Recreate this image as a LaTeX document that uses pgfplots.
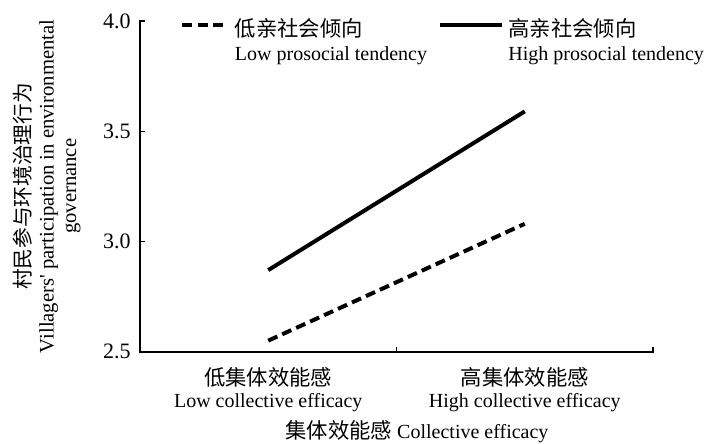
\documentclass[border=0pt]{standalone}
\usepackage{fontspec}
\setmainfont{Liberation Serif}
\newfontfamily\cjk{Noto Sans CJK SC}
\usepackage{pgfplots}
\pgfplotsset{compat=1.18}
\begin{document}
\begin{tikzpicture}
\begin{axis}[
  name=ax,
  scale only axis,
  width=384.75pt, height=248pt,
  xmin=-0.5, xmax=1.5,
  ymin=2.5, ymax=4.0,
  axis lines=left,
  axis line style={-, line width=1.5pt, line cap=rect},
  tick align=inside,
  major tick length=3.75pt,
  tick style={line width=1pt, black},
  xtick={-0.5,0.5,1.5},
  xticklabels={},
  extra x ticks={0,1},
  extra x tick labels={{\cjk\fontsize{16}{18}\selectfont 低集体效能感}\\Low collective efficacy,{\cjk\fontsize{16}{18}\selectfont 高集体效能感}\\High collective efficacy},
  extra x tick style={major tick length=0pt, tick style={draw=none}, xticklabel style={align=center, font=\fontsize{15}{16.5}\selectfont, anchor=north, yshift=-8pt}},
  ytick={2.5,3,3.5,4},
  yticklabel style={font=\fontsize{16.5}{18}\selectfont, xshift=-3.5pt, /pgf/number format/.cd, fixed, fixed zerofill, precision=1, assume math mode=true},
  ylabel={\begin{tabular}{@{}c@{}}{\cjk 村民参与环境治理行为}\\Villagers{\addfontfeature{Ligatures=TeXOff}'} participation in environmental\\governance\end{tabular}},
  ylabel style={at={(axis description cs:-0.179,0.5)}, anchor=center, font=\fontsize{15.5}{17}\selectfont},
  xlabel={{\cjk\fontsize{16}{18}\selectfont 集体效能感} Collective efficacy},
  xlabel style={at={(axis description cs:0.54,-0.243)}, anchor=center, font=\fontsize{15}{18}\selectfont},
  legend columns=2,
  legend cell align=left,
  legend style={at={(axis description cs:0.078,1)}, anchor=north west, yshift=4pt, draw=none, fill=none, inner sep=0pt, font=\fontsize{15}{18}\selectfont,
    /tikz/column 1/.style={column sep=5pt},
    /tikz/column 2/.style={column sep=6pt},
    /tikz/column 3/.style={column sep=1pt}},
]
\addplot[black, line width=3pt, dash pattern=on 7.5pt off 4pt,
  legend image code/.code={\draw[black, line width=3pt, dash pattern=on 7.5pt off 4pt] (0pt,3pt) -- (31pt,3pt);}]
  coordinates {(0,2.55) (1,3.08)};
\addlegendentry{\begin{tabular}[t]{@{}l@{}}{\cjk\fontsize{16}{18}\selectfont 低亲社会倾向}\\Low prosocial tendency\end{tabular}}
\addplot[black, line width=3pt,
  legend image code/.code={\draw[black, line width=3pt] (0pt,3pt) -- (47pt,3pt);}]
  coordinates {(0,2.87) (1,3.59)};
\addlegendentry{\begin{tabular}[t]{@{}l@{}}{\cjk\fontsize{16}{18}\selectfont 高亲社会倾向}\\High prosocial tendency\end{tabular}}
\end{axis}
\pgfresetboundingbox
\path[use as bounding box] (ax.south west) ++(-105pt,-68.5pt) rectangle ++(532.5pt,332.25pt);
\end{tikzpicture}
\end{document}
